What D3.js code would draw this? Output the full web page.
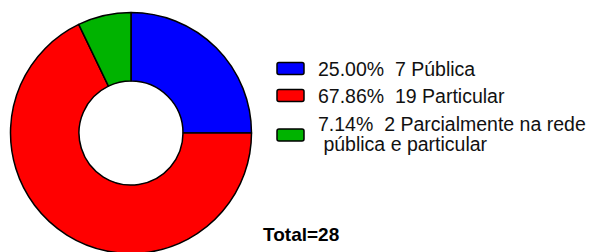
<!DOCTYPE html>
<html>
<head>
<meta charset="utf-8">
<script src="https://cdn.jsdelivr.net/npm/d3@7"></script>
<style>
  body { margin: 0; background: #fff; }
  text { font-family: "Liberation Sans", Arial, sans-serif; white-space: pre; }
</style>
</head>
<body>
<div class="pie-container"></div>
<script>
// chart data
const categories = ['Pública', 'Particular', 'Parcialmente na rede pública e particular'];
const counts = [7, 19, 2];
const colors = ['#0000ff', '#ff0000', '#00b300'];
// legend labels split the long category over two lines
const legend_lines = [
   ['25.00%  7 Pública'],
   ['67.86%  19 Particular'],
   ['7.14%  2 Parcialmente na rede', ' pública e particular']
];

const width = 594;
const height = 252;
const center = {x: 131, y: 133};
const outer_radius = 120.5;
const inner_radius = 52;

const total = d3.sum(counts);

function build_svg(container_name) {
   return d3.select(container_name)
      .append('svg')
      .attr('width', width)
      .attr('height', height);
}

function draw_donut(svg) {
   const pie = d3.pie().sort(null).value(d => d.count);
   const arc = d3.arc().innerRadius(inner_radius).outerRadius(outer_radius);
   const data = categories.map((c, i) => ({name: c, count: counts[i], color: colors[i]}));

   svg.append('g')
      .attr('transform', `translate(${center.x}, ${center.y})`)
      .selectAll('path')
      .data(pie(data))
      .join('path')
      .attr('d', arc)
      .attr('fill', d => d.data.color)
      .attr('stroke', '#000')
      .attr('stroke-width', 1.5)
      .attr('stroke-linejoin', 'round');
}

function draw_legend(svg) {
   const row_y = [75.5, 102.5, 130.5]; // baselines of first lines
   const legend = svg.append('g').attr('class', 'legend');

   const rows = legend.selectAll('g')
      .data(legend_lines)
      .join('g');

   rows.append('rect')
      .attr('x', 277)
      .attr('y', (d, i) => d.length > 1 ? row_y[i] - 1.5 : row_y[i] - 13)
      .attr('width', 27)
      .attr('height', 12)
      .attr('rx', 2)
      .attr('fill', (d, i) => colors[i])
      .attr('stroke', '#000')
      .attr('stroke-width', 1.5);

   rows.each(function (lines, i) {
      d3.select(this).selectAll('text')
         .data(lines)
         .join('text')
         .attr('x', 318)
         .attr('y', (t, j) => row_y[i] + j * 20)
         .attr('font-size', 19.5)
         .attr('fill', '#111')
         .text(t => t);
   });
}

function draw_total(svg) {
   svg.append('text')
      .attr('x', 263)
      .attr('y', 241)
      .attr('font-size', 19)
      .attr('font-weight', 'bold')
      .attr('fill', '#000')
      .text(`Total=${total}`);
}

const svg = build_svg('.pie-container');
draw_donut(svg);
draw_legend(svg);
draw_total(svg);
</script>
</body>
</html>
